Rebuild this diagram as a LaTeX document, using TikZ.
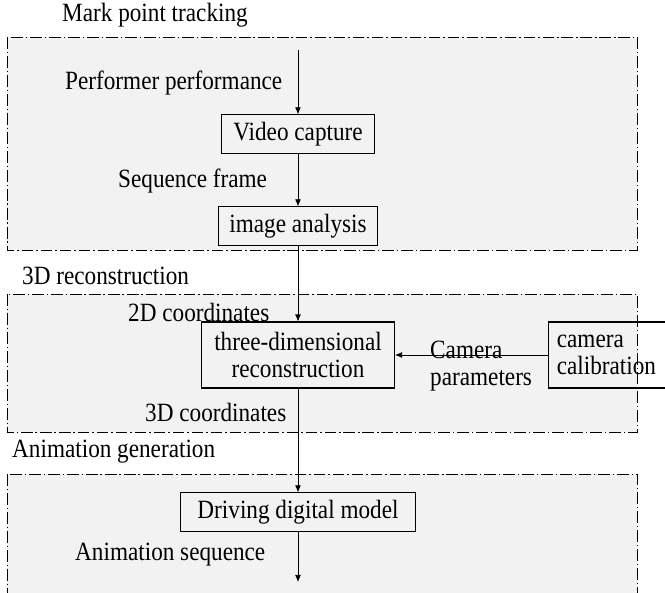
\documentclass[tikz,border=0pt]{standalone}
\usepackage{fontspec}
\setmainfont[FakeStretch=0.88]{Liberation Serif}
\usetikzlibrary{positioning, arrows.meta}
\definecolor{panelgray}{RGB}{242,242,242}

\begin{document}
\begin{tikzpicture}[
    x=0.03cm, y=-0.03cm,
    font=\fontsize{22.5}{23}\selectfont,
    panel/.style={draw, fill=panelgray, line width=0.6pt, dash pattern=on 10pt off 2.5pt on 1.2pt off 2.5pt},
    stage/.style={draw, rectangle, line width=0.9pt, minimum height=1.15cm, inner xsep=0.25cm, align=center},
    lbl/.style={anchor=west, inner sep=0pt},
    arr/.style={-{Latex[length=6pt, width=5pt]}, line width=0.6pt}
]
    \clip (0,0) rectangle (665,593);
    \fill[white] (0,0) rectangle (665,593);

    % group panels
    \draw[panel] (7,37) rectangle (637,250);
    \draw[panel] (7,294) rectangle (637,432);
    \draw[panel] (7,474) rectangle (637,620);

    \node[lbl] (t1) at (62,15) {Mark point tracking};
    \node[lbl] (t2) at (22,276) {3D reconstruction};
    \node[lbl] (t3) at (12,452) {Animation generation};

    % processing steps
    \coordinate (src) at (298,50);
    \node[stage, minimum width=4.6cm] (video) at (298,134) {Video capture};
    \node[stage, minimum width=4.77cm] (ana) at (298,226) {image analysis};
    \node[stage, minimum width=5.79cm, minimum height=1.98cm] (recon) at (298,355) {three-dimensional\\reconstruction};
    \node[stage, text width=3.6cm, align=left, anchor=west, minimum height=1.98cm] (calib) at (548,355) {camera\\calibration};
    \node[stage, minimum width=7.05cm] (drive) at (298,512) {Driving digital model};
    \coordinate (sink) at (298,582);

    % data labels
    \node[lbl] (perf) at (65,83) {Performer performance};
    \node[lbl] (seq) at (118,181) {Sequence frame};
    \node[lbl] (c2d) at (128,312) {2D coordinates};
    \node[lbl, align=left] (cam) at (430,366) {Camera\\parameters};
    \node[lbl] (c3d) at (145,412) {3D coordinates};
    \node[lbl] (aseq) at (75,555) {Animation sequence};

    \draw[arr] (src) -- (video);
    \draw[arr] (video) -- (ana);
    \draw[arr] (ana) -- (recon);
    \draw[arr] (calib) -- (recon);
    \draw[arr] (recon) -- (drive);
    \draw[arr] (drive) -- (sink);
\end{tikzpicture}
\end{document}
